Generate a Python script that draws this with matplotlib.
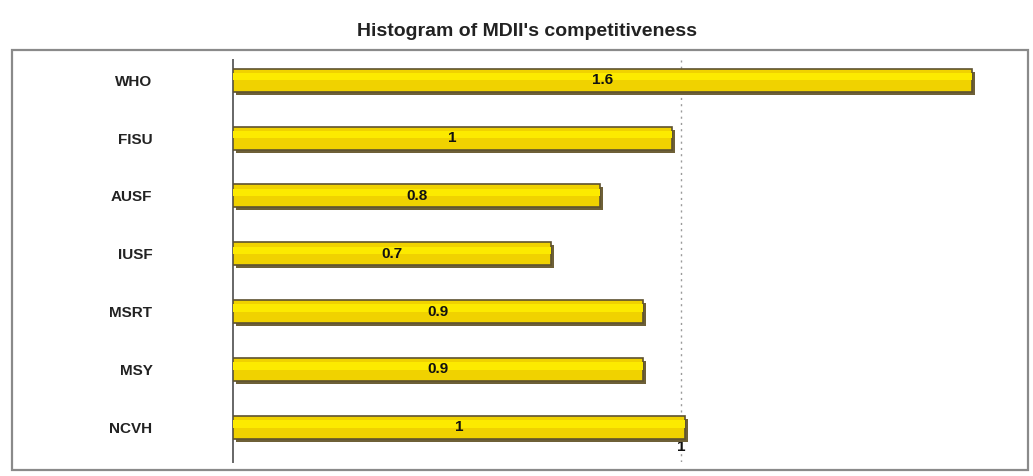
"""
Horizontal bar chart of MDII competitiveness by organisation.
"""

import numpy as np
import matplotlib
matplotlib.use("Agg")
import matplotlib.pyplot as plt
import matplotlib.transforms as mtransforms
from matplotlib.patches import Rectangle

# organisations, top to bottom
orgs = ["WHO", "FISU", "AUSF", "IUSF", "MSRT", "MSY", "NCVH"]
# bar lengths
values = [1.65, 0.98, 0.82, 0.71, 0.915, 0.915, 1.01]
# labels printed on the bars
bar_labels = ["1.6", "1", "0.8", "0.7", "0.9", "0.9", "1"]

plt.rcParams["font.family"] = ["Liberation Sans", "DejaVu Sans"]

fig = plt.figure(figsize=(10.33, 4.76), dpi=100)
W, H = 1033, 476

# outer frame like the original chart area
fig.patches.append(Rectangle((12 / W, 0.012), (1028 - 12) / W, 1 - 50 / H - 0.012,
                             transform=fig.transFigure, fill=False,
                             edgecolor="#8a8a8a", linewidth=1.6))

fig.text(527 / W, 1 - 31 / H, "Histogram of MDII's competitiveness",
         ha="center", va="center", fontsize=14, fontweight="bold",
         color="#222222")

ax = fig.add_axes([233 / W, 14 / H, (1017 - 233) / W, (462 - 60) / H])
y = np.arange(len(orgs))
h = 0.4

# drop shadow, offset down and right a few pixels
shadow = ax.transData + mtransforms.ScaledTranslation(3 / 100, -3 / 100, fig.dpi_scale_trans)
ax.barh(y, values, height=h, color="#6e6037", transform=shadow, zorder=2)
ax.barh(y, values, height=h, color="#f0d200", edgecolor="#5e5230",
        linewidth=1.2, zorder=3)
# lighter band on the upper part for the glossy look
ax.barh(y - h * 0.15, values, height=h * 0.32, color="#fcea00",
        linewidth=0, zorder=4)

for yi, v, lab in zip(y, values, bar_labels):
    ax.text(v / 2, yi, lab, ha="center", va="center", fontsize=11,
            fontweight="bold", color="#111111", zorder=5)

ax.axvline(1, color="#9a9a9a", linestyle=(0, (1.5, 3)), linewidth=1, zorder=1)

ax.set_xlim(0, 1.75)
ax.set_ylim(len(orgs) - 1 + 0.6, -0.35)
ax.set_yticks(y)
ax.set_yticklabels(orgs, fontsize=11, fontweight="bold", color="#222222")
ax.tick_params(axis="y", length=0, pad=58)
ax.set_xticks([1])
ax.set_xticklabels(["1"], fontsize=11, fontweight="bold", color="#111111")
ax.tick_params(axis="x", length=0, direction="in", pad=-16)

for side in ["top", "right", "bottom"]:
    ax.spines[side].set_visible(False)
ax.spines["left"].set_color("#666666")
ax.spines["left"].set_linewidth(1.4)
ax.set_facecolor("none")

fig.savefig("out.png", dpi=100)
